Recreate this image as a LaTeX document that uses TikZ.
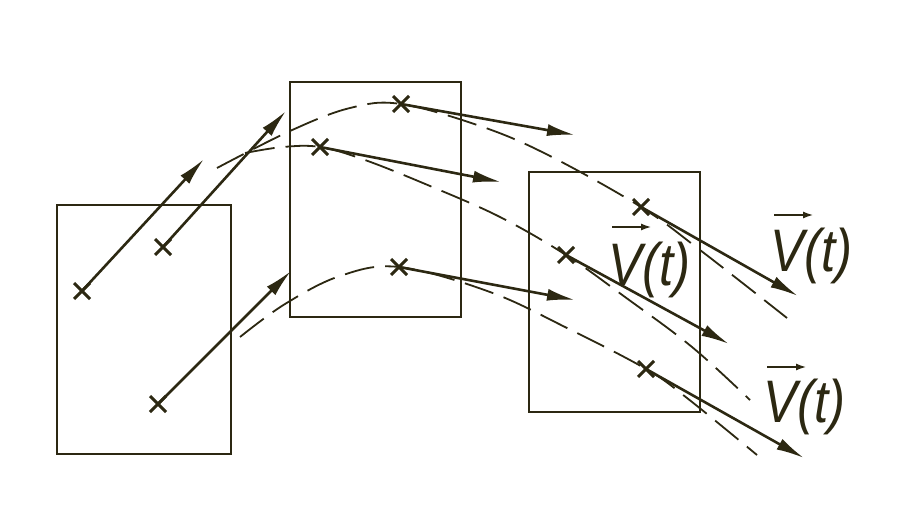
\documentclass[tikz,border=0pt]{standalone}
\usepackage{fontspec}
\newfontfamily\lblfont{Liberation Sans}
\usetikzlibrary{arrows.meta,shapes.misc}
\definecolor{ink}{RGB}{44,40,18}
\tikzset{
  box/.style={draw=ink,line width=2.6pt,minimum width=#1,inner sep=0pt},
  crossmark/.style={cross out,draw=ink,line width=3pt,minimum size=13pt,inner sep=0pt},
  vec/.style={draw=ink,line width=2.6pt,-{Latex[length=28pt,width=12pt]}},
  traj/.style={draw=ink,line width=1.8pt,dash pattern=on 30pt off 11pt},
  lbl/.style={text=ink,anchor=base west,inner sep=0pt,font=\lblfont\itshape\fontsize{60}{60}\selectfont},
  ovarrow/.style={draw=ink,line width=2.4pt,-{Latex[length=11pt,width=7pt]}}
}
\begin{document}
\begin{tikzpicture}[x=1pt,y=-1pt]
\useasboundingbox (0,0) rectangle (905,513);
% boxes
\node[box=174pt,minimum height=249pt] (L) at (144,329.5) {};
\node[box=171pt,minimum height=235pt] (M) at (375.5,199.5) {};
\node[box=171pt,minimum height=240pt] (R) at (614.5,292) {};
% points
\node[crossmark] (a1) at (82,291) {};
\node[crossmark] (a2) at (163,247) {};
\node[crossmark] (a3) at (158,404) {};
\node[crossmark] (b1) at (401,104) {};
\node[crossmark] (b2) at (320,147) {};
\node[crossmark] (b3) at (399,267) {};
\node[crossmark] (c1) at (641,207) {};
\node[crossmark] (c2) at (566,255) {};
\node[crossmark] (c3) at (646,369) {};
% arrow tips
\coordinate (ta1) at (204,159);
\coordinate (ta2) at (286,111);
\coordinate (ta3) at (291,271);
\coordinate (tb1) at (575,135);
\coordinate (tb2) at (501,182);
\coordinate (tb3) at (575,300);
\coordinate (tc1) at (798,296);
\coordinate (tc2) at (729,344);
\coordinate (tc3) at (804,458);
% trajectories
\draw[traj] plot[smooth,tension=0.6] coordinates {(217,168) (290,131) (350,108) (b1.center) (483,127) (550,156) (c1.center) (700,250) (787,318)};
\draw[traj] plot[smooth,tension=0.6] coordinates {(245,153) (283,147) (b2.center) (365,160) (430,186) (500,217) (c2.center) (625,297) (692,347) (750,400)};
\draw[traj] plot[smooth,tension=0.6] coordinates {(240,337) (285,304) (340,276) (b3.center) (490,292) (567,328) (c3.center) (687,398) (757,455)};
% velocity arrows
\draw[vec] (a1.center) -- (ta1);
\draw[vec] (a2.center) -- (ta2);
\draw[vec] (a3.center) -- (ta3);
\draw[vec] (b1.center) -- (tb1);
\draw[vec] (b2.center) -- (tb2);
\draw[vec] (b3.center) -- (tb3);
\draw[vec] (c1.center) -- (tc1);
\draw[vec] (c2.center) -- (tc2);
\draw[vec] (c3.center) -- (tc3);
% labels
\node[lbl] (v1) at (608,285) {\scalebox{0.85}[1]{V(t)}};
\node[lbl] (v2) at (770,272) {\scalebox{0.85}[1]{V(t)}};
\node[lbl] (v3) at (763,422) {\scalebox{0.85}[1]{V(t)}};
\draw[ovarrow] ([xshift=4pt,yshift=58pt]v1.base west) -- ++(40pt,0pt);
\draw[ovarrow] ([xshift=4pt,yshift=57pt]v2.base west) -- ++(40pt,0pt);
\draw[ovarrow] ([xshift=4pt,yshift=55pt]v3.base west) -- ++(40pt,0pt);
\end{tikzpicture}
\end{document}
